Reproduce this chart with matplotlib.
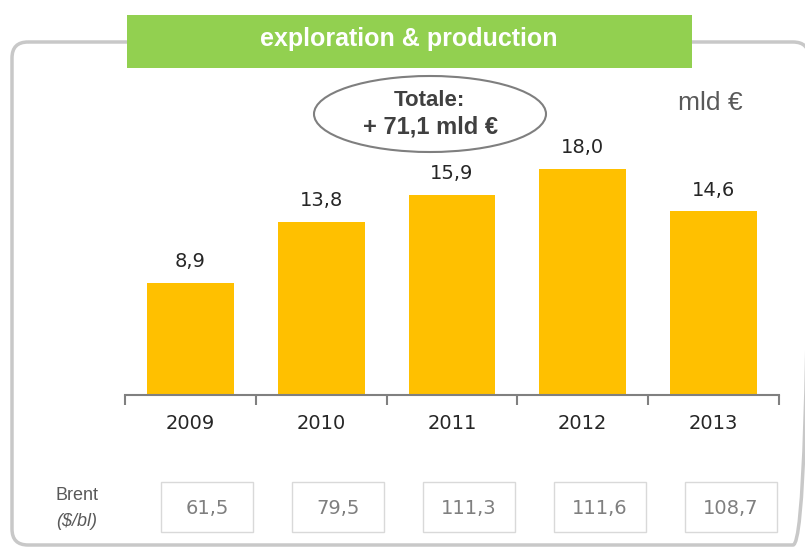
import matplotlib.pyplot as plt
from matplotlib.patches import FancyBboxPatch, Ellipse, Rectangle

years = ['2009', '2010', '2011', '2012', '2013']
investimenti = [8.9, 13.8, 15.9, 18.0, 14.6]
brent = [61.5, 79.5, 111.3, 111.6, 108.7]
totale = 71.1


def virgola(v):
    return f'{v:.1f}'.replace('.', ',')


fig = plt.figure(figsize=(8.05, 5.47), dpi=100)

# overlay in pixel coordinates for the frame, header and brent row
deco = fig.add_axes([0, 0, 1, 1])
deco.set_xlim(0, 805)
deco.set_ylim(547, 0)
deco.axis('off')

# rounded grey frame
deco.add_patch(FancyBboxPatch((12, 42), 797, 503, boxstyle='round,pad=0,rounding_size=16',
                              fill=False, edgecolor='#c8c8c8', lw=2.5, clip_on=False))

# green header
deco.add_patch(Rectangle((127, 15), 565, 53, facecolor='#92d050', edgecolor='none', zorder=3))
deco.text(409, 39, 'exploration & production', color='white', fontsize=18, fontweight='bold',
          family='Liberation Sans', ha='center', va='center', zorder=4)

# total bubble
deco.add_patch(Ellipse((430, 114), 232, 76, fill=False, edgecolor='#7f7f7f', lw=1.5))
deco.text(429, 100, 'Totale:', color='#404040', fontsize=16, fontweight='bold',
          family='Liberation Sans', ha='center', va='center')
deco.text(430, 127, f'+ {virgola(totale)} mld €', color='#404040', fontsize=17, fontweight='bold',
          family='Liberation Sans', ha='center', va='center')

deco.text(710, 103, 'mld €', color='#595959', fontsize=19, family='Liberation Sans',
          ha='center', va='center')

# brent row
deco.text(77, 496, 'Brent', color='#595959', fontsize=13, family='Liberation Sans',
          ha='center', va='center')
deco.text(77, 521, '($/bl)', color='#595959', fontsize=13, style='italic', family='Liberation Sans',
          ha='center', va='center')
step = 654 / len(years)
for i, b in enumerate(brent):
    cx = 125 + (i + 0.5) * step + 17
    deco.add_patch(Rectangle((cx - 46, 482), 92, 50, fill=False, edgecolor='#d9d9d9', lw=1))
    deco.text(cx, 508, virgola(b), color='#7f7f7f', fontsize=14, ha='center', va='center')

# bar chart
ax = fig.add_axes([125 / 805, 152 / 547, 654 / 805, 295 / 547])
ax.patch.set_alpha(0)
x = list(range(len(years)))
ax.bar(x, investimenti, width=0.665, color='#ffc000')
for i, v in enumerate(investimenti):
    ax.text(i, v + 1.7, virgola(v), ha='center', va='center', fontsize=14, color='#262626')

ax.set_xlim(-0.5, len(years) - 0.5)
ax.set_ylim(0, 295 / 12.57)
ax.set_yticks([])
for s in ['top', 'left', 'right']:
    ax.spines[s].set_visible(False)
ax.spines['bottom'].set_color('#808080')
ax.spines['bottom'].set_linewidth(1.5)
ax.set_xticks(x)
ax.set_xticklabels(years, fontsize=14, color='#262626')
ax.tick_params(axis='x', which='major', length=0, pad=14)
ax.set_xticks([i - 0.5 for i in range(len(years) + 1)], minor=True)
ax.tick_params(axis='x', which='minor', length=7, width=1.5, color='#808080', direction='out')

fig.savefig('out.png', dpi=100)
